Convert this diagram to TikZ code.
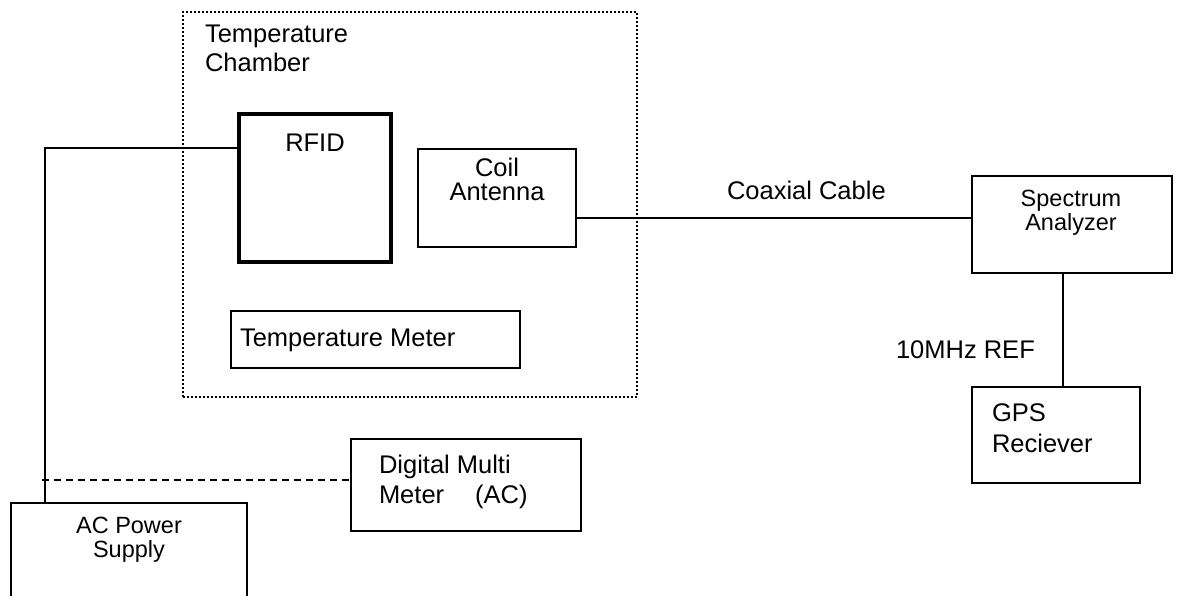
\documentclass[tikz,border=0pt]{standalone}
\usepackage{fontspec}
\setmainfont{Liberation Sans}
\begin{document}
\begin{tikzpicture}[x={(1pt,0)},y={(0,-1pt)},
  box/.style={draw, line width=1.6pt, inner sep=0pt, outer sep=0pt, anchor=north west},
  lbl/.style={font=\fontsize{25.5}{30}\selectfont, inner sep=0pt, outer sep=0pt},
  slbl/.style={font=\fontsize{23.5}{28}\selectfont, inner sep=0pt, outer sep=0pt},
  wire/.style={line width=1.4pt},
  chamberline/.style={line width=2pt, dash pattern=on 2pt off 2pt}]
\useasboundingbox (0,0) rectangle (1181,595);
% chamber
\node[box, chamberline, minimum width=454pt, minimum height=385pt] (chamber) at (183,12) {};
\node[lbl, anchor=base west] (chT1) at (205,42) {Temperature};
\node[lbl, anchor=base west] (chT2) at (205,71) {Chamber};
% RFID
\node[box, line width=4.5pt, minimum width=152pt, minimum height=148pt] (rfid) at (239,114) {};
\node[lbl, anchor=base] (rfidT) at (315,151) {RFID};
% coil antenna
\node[box, minimum width=158pt, minimum height=98pt] (coil) at (418,149) {};
\node[lbl, anchor=base] (coilT1) at (497,176) {Coil};
\node[lbl, anchor=base] (coilT2) at (497,200) {Antenna};
% temperature meter
\node[box, minimum width=289pt, minimum height=57pt] (tmeter) at (231,311) {};
\node[lbl, anchor=base west] (tmeterT) at (240,346) {Temperature Meter};
% spectrum analyzer
\node[box, minimum width=200pt, minimum height=97pt] (spec) at (972,176) {};
\node[slbl, anchor=base] (specT1) at (1071,206) {Spectrum};
\node[slbl, anchor=base] (specT2) at (1071,230) {Analyzer};
% GPS
\node[box, minimum width=168pt, minimum height=96pt] (gps) at (972,387) {};
\node[lbl, anchor=base west] (gpsT1) at (992,421) {GPS};
\node[lbl, anchor=base west] (gpsT2) at (992,452) {Reciever};
% DMM
\node[box, minimum width=230pt, minimum height=92pt] (dmm) at (351,439) {};
\node[lbl, anchor=base west] (dmmT1) at (379,473) {Digital Multi};
\node[lbl, anchor=base west] (dmmT2) at (379,503) {Meter\hspace*{31pt}(AC)};
% AC power supply
\node[box, minimum width=236pt, minimum height=110pt] (acps) at (11,503) {};
\node[slbl, anchor=base] (acT1) at (129,533) {AC Power};
\node[slbl, anchor=base] (acT2) at (129,557) {Supply};
% connectors
\coordinate (pw) at (45,148);
\draw[wire] (acps.north -| pw) |- (rfid.west |- pw);
\coordinate (dm) at (42,480);
\draw[wire, dash pattern=on 7pt off 5pt] (dm) -- (dmm.west |- dm);
\coordinate (cx) at (577,218);
\draw[wire] (coil.east |- cx) -- (spec.west |- cx);
\node[lbl, anchor=base west] (coaxT) at (727,199) {Coaxial Cable};
\coordinate (rf) at (1063,300);
\draw[wire] (spec.south -| rf) -- (gps.north -| rf);
\node[lbl, anchor=base west] (refT) at (896,358) {10MHz REF};
\end{tikzpicture}
\end{document}
